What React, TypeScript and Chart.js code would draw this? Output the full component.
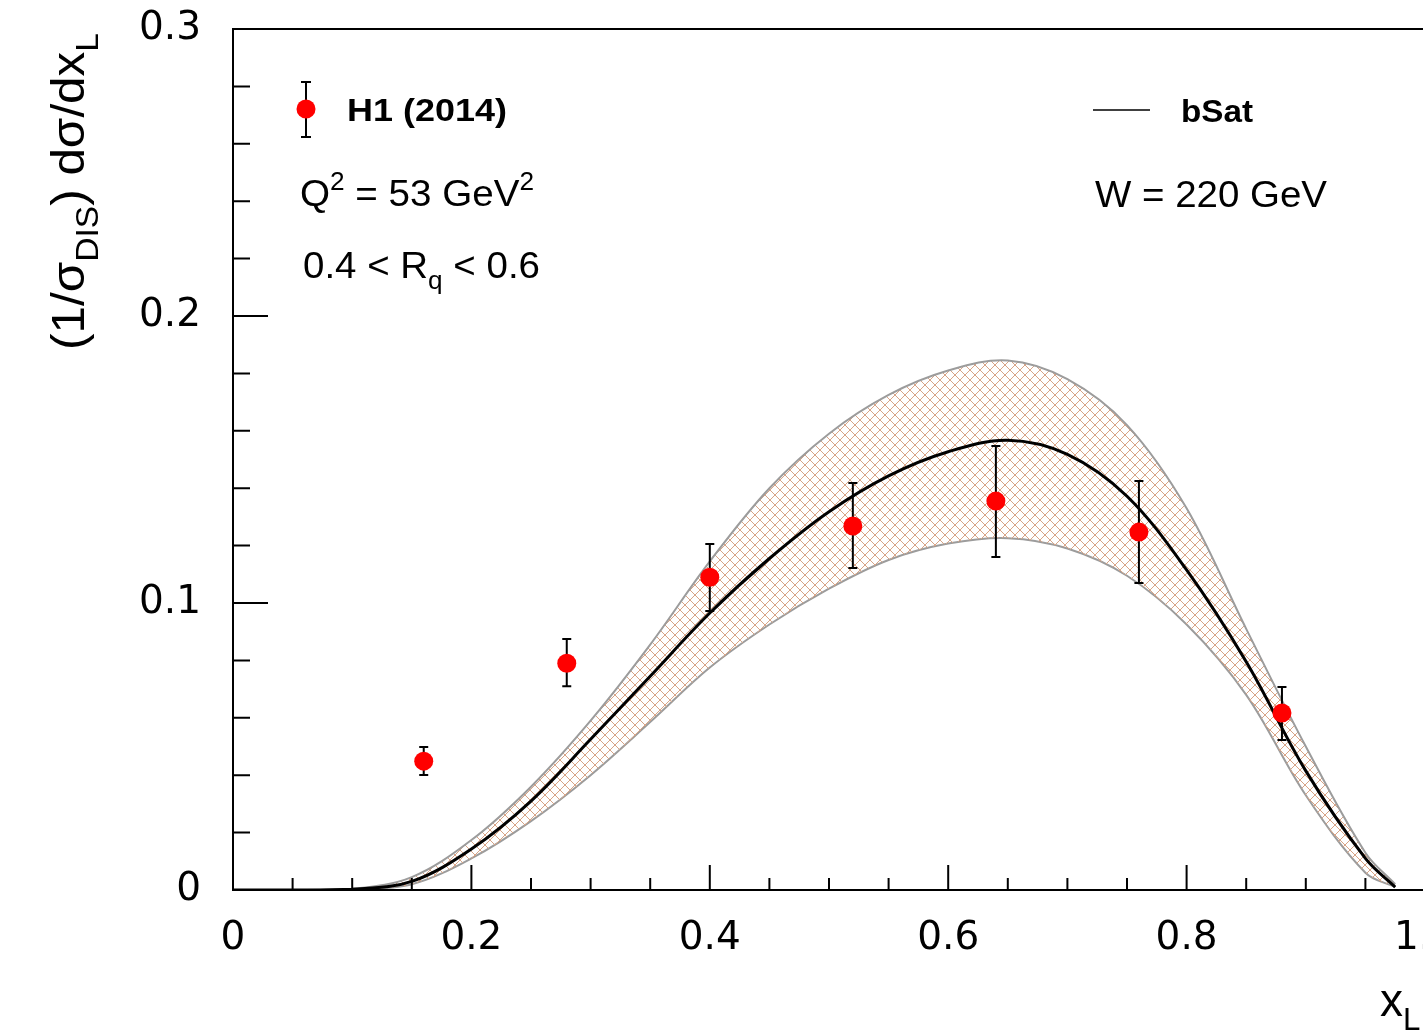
import React, { useEffect, useRef } from 'react';
import { Chart, registerables } from 'chart.js';

Chart.register(...registerables);

// ---- Data ----
const xData = [0.16, 0.28, 0.40, 0.52, 0.64, 0.76, 0.88];
const yData = [0.0449, 0.0790, 0.1090, 0.1268, 0.1355, 0.1247, 0.0617];
const errUp = [0.0049, 0.0085, 0.0116, 0.0150, 0.0192, 0.0178, 0.0090];
const errDown = [0.0048, 0.0080, 0.0118, 0.0146, 0.0195, 0.0177, 0.0094];

const xTheory = [0, 0.05, 0.1, 0.15, 0.2, 0.25, 0.3, 0.35, 0.4, 0.45, 0.5, 0.55, 0.6, 0.65, 0.7, 0.75, 0.8, 0.85, 0.9, 0.95, 0.975];
const central = [0, 0, 0.0003, 0.003, 0.0143, 0.031, 0.0525, 0.0745, 0.0965, 0.1155, 0.1318, 0.1443, 0.1527, 0.1567, 0.1518, 0.1372, 0.1115, 0.0795, 0.0415, 0.011, 0.001];
const upper = [0, 0, 0.0004, 0.0045, 0.0174, 0.036, 0.059, 0.0855, 0.1145, 0.140, 0.159, 0.1725, 0.181, 0.1845, 0.178, 0.162, 0.133, 0.091, 0.050, 0.013, 0.002];
const lower = [0, 0, 0.0002, 0.002, 0.011, 0.024, 0.040, 0.0585, 0.0775, 0.0925, 0.105, 0.115, 0.1207, 0.1226, 0.119, 0.1095, 0.0925, 0.068, 0.033, 0.006, 0.001];

const xTicksMajor = [0, 0.2, 0.4, 0.6, 0.8, 1];
const yTicksMajor = [0, 0.1, 0.2, 0.3];

const dataLabel = 'H1 (2014)';
const theoryLabel = 'bSat';

type Part = { t: string; s?: 'sub' | 'sup' };

const SANS = '"Liberation Sans", Arial, Helvetica, sans-serif';

function drawRich(
  ctx: CanvasRenderingContext2D,
  parts: Part[],
  x: number,
  y: number,
  size: number,
  opts: { bold?: boolean; width?: number } = {}
) {
  const weight = opts.bold ? 'bold ' : '';
  const fontFor = (p: Part) => `${weight}${p.s ? size * 0.68 : size}px ${SANS}`;
  let total = 0;
  const widths: number[] = [];
  for (const p of parts) {
    ctx.font = fontFor(p);
    const w = ctx.measureText(p.t).width;
    widths.push(w);
    total += w;
  }
  const sx = opts.width ? opts.width / total : 1;
  ctx.save();
  ctx.translate(x, y);
  ctx.scale(sx, 1);
  ctx.textAlign = 'left';
  ctx.textBaseline = 'alphabetic';
  ctx.fillStyle = '#000';
  let cx = 0;
  parts.forEach((p, i) => {
    ctx.font = fontFor(p);
    const dy = p.s === 'sub' ? size * 0.3 : p.s === 'sup' ? -size * 0.42 : 0;
    ctx.fillText(p.t, cx, dy);
    cx += widths[i];
  });
  ctx.restore();
}

function makeHatch(): CanvasPattern | string {
  const c = document.createElement('canvas');
  c.width = 10;
  c.height = 10;
  const g = c.getContext('2d');
  if (!g) return 'rgba(212,154,120,0.3)';
  g.strokeStyle = '#d8a486';
  g.lineWidth = 1;
  g.beginPath();
  g.moveTo(-1, -1);
  g.lineTo(11, 11);
  g.moveTo(-1, 11);
  g.lineTo(11, -1);
  g.stroke();
  const main = document.createElement('canvas').getContext('2d');
  return (main && main.createPattern(c, 'repeat')) || 'rgba(212,154,120,0.3)';
}

const decorPlugin = {
  id: 'decor',
  beforeDatasetDraw(chart: any, args: any) {
    if (args.index !== 0) return;
    const ctx: CanvasRenderingContext2D = chart.ctx;
    const xs = chart.scales.x;
    const ys = chart.scales.y;
    ctx.save();
    ctx.strokeStyle = '#000';
    ctx.lineWidth = 2;
    xData.forEach((xv, i) => {
      const px = xs.getPixelForValue(xv);
      const top = ys.getPixelForValue(yData[i] + errUp[i]);
      const bot = ys.getPixelForValue(yData[i] - errDown[i]);
      ctx.beginPath();
      ctx.moveTo(px, top);
      ctx.lineTo(px, bot);
      ctx.moveTo(px - 4.5, top);
      ctx.lineTo(px + 4.5, top);
      ctx.moveTo(px - 4.5, bot);
      ctx.lineTo(px + 4.5, bot);
      ctx.stroke();
    });
    ctx.restore();
  },
  afterDraw(chart: any) {
    const ctx: CanvasRenderingContext2D = chart.ctx;
    const { left, right, top, bottom } = chart.chartArea;
    const xs = chart.scales.x;
    const ys = chart.scales.y;
    ctx.save();
    // frame
    ctx.strokeStyle = '#000';
    ctx.lineWidth = 2;
    ctx.strokeRect(left, top, right - left, bottom - top);
    // x ticks (inward)
    ctx.beginPath();
    for (let i = 0; i <= 20; i++) {
      const v = i * 0.05;
      const px = xs.getPixelForValue(v);
      const len = i % 4 === 0 ? 25 : 12;
      ctx.moveTo(px, bottom);
      ctx.lineTo(px, bottom - len);
    }
    // y ticks (inward)
    for (let i = 0; i <= 15; i++) {
      const v = i * 0.02;
      const py = ys.getPixelForValue(v);
      const len = i % 5 === 0 ? 35 : 17;
      ctx.moveTo(left, py);
      ctx.lineTo(left + len, py);
    }
    ctx.stroke();

    // y-axis title
    ctx.save();
    ctx.translate(84, 350);
    ctx.rotate(-Math.PI / 2);
    drawRich(
      ctx,
      [{ t: '(1/σ' }, { t: 'DIS', s: 'sub' }, { t: ') dσ/dx' }, { t: 'L', s: 'sub' }],
      0,
      0,
      46,
      { width: 317 }
    );
    ctx.restore();

    // x-axis title
    drawRich(ctx, [{ t: 'x' }, { t: 'L', s: 'sub' }], 1380, 1016, 46);

    // legend: data
    const mx = 306;
    const my = 109;
    ctx.strokeStyle = '#000';
    ctx.lineWidth = 2;
    ctx.beginPath();
    ctx.moveTo(mx, 82);
    ctx.lineTo(mx, 137);
    ctx.moveTo(mx - 5, 82);
    ctx.lineTo(mx + 5, 82);
    ctx.moveTo(mx - 5, 137);
    ctx.lineTo(mx + 5, 137);
    ctx.stroke();
    ctx.fillStyle = '#ff0000';
    ctx.beginPath();
    ctx.arc(mx, my, 9.5, 0, Math.PI * 2);
    ctx.fill();
    drawRich(ctx, [{ t: dataLabel }], 347, 121, 32, { bold: true, width: 160 });

    drawRich(
      ctx,
      [{ t: 'Q' }, { t: '2', s: 'sup' }, { t: ' = 53 GeV' }, { t: '2', s: 'sup' }],
      300,
      206,
      37,
      { width: 234 }
    );
    drawRich(
      ctx,
      [{ t: '0.4 < R' }, { t: 'q', s: 'sub' }, { t: ' < 0.6' }],
      303,
      278,
      37,
      { width: 237 }
    );

    // legend: theory
    ctx.strokeStyle = '#000';
    ctx.lineWidth = 1.5;
    ctx.beginPath();
    ctx.moveTo(1093, 110);
    ctx.lineTo(1150, 110);
    ctx.stroke();
    drawRich(ctx, [{ t: theoryLabel }], 1181, 122, 32, { bold: true, width: 72 });
    drawRich(ctx, [{ t: 'W = 220 GeV' }], 1095, 207, 37, { width: 232 });

    ctx.restore();
  },
};

export default function App() {
  const canvasRef = useRef<HTMLCanvasElement | null>(null);

  useEffect(() => {
    const canvas = canvasRef.current;
    if (!canvas) return;
    const hatch = makeHatch();
    const curve = { pointRadius: 0, tension: 0.35, cubicInterpolationMode: 'default' };
    const chart = new Chart(canvas, {
      type: 'line',
      data: {
        datasets: [
          {
            label: dataLabel,
            data: xData.map((x, i) => ({ x, y: yData[i] })),
            showLine: false,
            pointRadius: 9.5,
            pointHoverRadius: 9.5,
            pointBorderWidth: 0,
            pointBackgroundColor: '#ff0000',
            borderColor: '#ff0000',
            backgroundColor: '#ff0000',
          },
          {
            label: theoryLabel,
            data: xTheory.map((x, i) => ({ x, y: central[i] })),
            borderColor: '#000000',
            borderWidth: 3,
            fill: false,
            ...curve,
          },
          {
            label: 'upper',
            data: xTheory.map((x, i) => ({ x, y: upper[i] })),
            borderColor: '#9c9c9c',
            borderWidth: 2,
            backgroundColor: hatch as any,
            fill: '+1',
            ...curve,
          },
          {
            label: 'lower',
            data: xTheory.map((x, i) => ({ x, y: lower[i] })),
            borderColor: '#9c9c9c',
            borderWidth: 2,
            fill: false,
            ...curve,
          },
        ],
      },
      options: {
        animation: false,
        responsive: false,
        devicePixelRatio: 1,
        events: [],
        layout: { padding: { top: 29, right: 55, left: 0, bottom: 0 } },
        plugins: {
          legend: { display: false },
          tooltip: { enabled: false },
        },
        scales: {
          x: {
            type: 'linear',
            min: 0,
            max: 1,
            afterFit: (s: any) => {
              s.height = 144;
              s.paddingLeft = 0;
              s.paddingRight = 0;
            },
            afterBuildTicks: (s: any) => {
              s.ticks = xTicksMajor.map((v) => ({ value: v }));
            },
            grid: { display: false, drawTicks: false },
            border: { display: false },
            ticks: {
              autoSkip: false,
              maxRotation: 0,
              padding: 25,
              color: '#000',
              font: { family: '"DejaVu Sans", sans-serif', size: 39 },
            },
          },
          y: {
            type: 'linear',
            min: 0,
            max: 0.3,
            afterFit: (s: any) => {
              s.width = 233;
              s.paddingTop = 0;
              s.paddingBottom = 0;
            },
            afterBuildTicks: (s: any) => {
              s.ticks = yTicksMajor.map((v) => ({ value: v }));
            },
            grid: { display: false, drawTicks: false },
            border: { display: false },
            ticks: {
              autoSkip: false,
              padding: 32,
              color: '#000',
              font: { family: '"DejaVu Sans", sans-serif', size: 39 },
            },
          },
        },
      },
      plugins: [decorPlugin],
    } as any);
    return () => {
      chart.destroy();
    };
  }, []);

  return (
    <div
      style={{
        position: 'fixed',
        left: 0,
        top: 0,
        width: 1423,
        height: 1034,
        overflow: 'hidden',
        background: '#fff',
      }}
    >
      <canvas ref={canvasRef} width={1480} height={1034} style={{ display: 'block' }} />
    </div>
  );
}
